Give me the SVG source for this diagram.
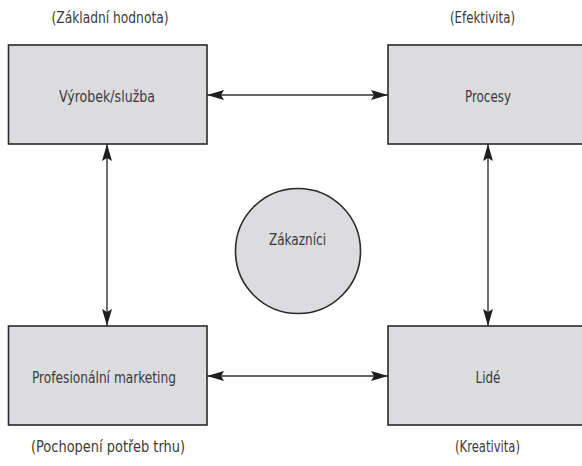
<svg xmlns="http://www.w3.org/2000/svg" width="582" height="466" viewBox="0 0 582 466">
<defs>
<marker id="ah" markerUnits="userSpaceOnUse" markerWidth="18" markerHeight="11" refX="17" refY="5.5" orient="auto-start-reverse" viewBox="0 0 18 11">
<path d="M0,0.5 L17,5.5 L0,10.5 L3,5.5 Z" fill="#1e1e1e"/>
</marker>
<style>
.box{fill:#dcdcde;stroke:#2a2a2a;stroke-width:1.6}
.lbl{font-family:"DejaVu Sans Condensed","DejaVu Sans",sans-serif;font-stretch:condensed;font-size:15px;fill:#3a3a3a;text-anchor:middle}
.con{stroke:#333;stroke-width:1.4;fill:none;marker-start:url(#ah);marker-end:url(#ah)}
</style>
</defs>
<rect width="582" height="466" fill="#fff"/>
<g id="connectors">
<line class="con" x1="207" y1="95" x2="388" y2="95"/>
<line class="con" x1="207" y1="376" x2="388" y2="376"/>
<line class="con" x1="107" y1="144" x2="107" y2="326"/>
<line class="con" x1="488" y1="144" x2="488" y2="326"/>
</g>
<g id="vyrobek">
<rect class="box" x="8.5" y="45" width="198.5" height="99"/>
<text class="lbl" x="107" y="102" textLength="96" lengthAdjust="spacingAndGlyphs">Výrobek/služba</text>
</g>
<g id="procesy">
<rect class="box" x="388" y="45" width="200" height="99"/>
<text class="lbl" x="488" y="102" textLength="46" lengthAdjust="spacingAndGlyphs">Procesy</text>
</g>
<g id="marketing">
<rect class="box" x="8.5" y="326" width="198.5" height="99"/>
<text class="lbl" x="104" y="383" textLength="144" lengthAdjust="spacingAndGlyphs">Profesionální marketing</text>
</g>
<g id="lide">
<rect class="box" x="388" y="326" width="200" height="99"/>
<text class="lbl" x="488" y="383" textLength="25" lengthAdjust="spacingAndGlyphs">Lidé</text>
</g>
<g id="zakaznici">
<circle class="box" cx="298" cy="251" r="62.5"/>
<text class="lbl" x="297.5" y="245" textLength="57" lengthAdjust="spacingAndGlyphs">Zákazníci</text>
</g>
<g id="labels">
<text class="lbl" x="110" y="23" textLength="117" lengthAdjust="spacingAndGlyphs">(Základní hodnota)</text>
<text class="lbl" x="482.5" y="23" textLength="65" lengthAdjust="spacingAndGlyphs">(Efektivita)</text>
<text class="lbl" x="108" y="452" textLength="154" lengthAdjust="spacingAndGlyphs">(Pochopení potřeb trhu)</text>
<text class="lbl" x="487.5" y="452" textLength="65" lengthAdjust="spacingAndGlyphs">(Kreativita)</text>
</g>
</svg>
